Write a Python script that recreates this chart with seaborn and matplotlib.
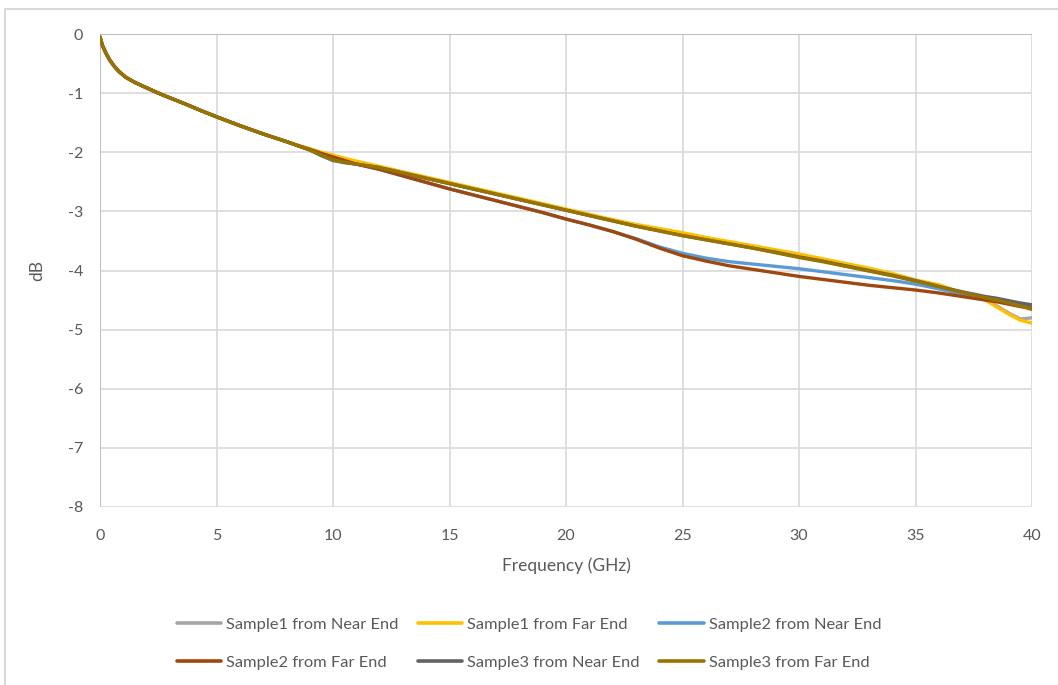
import numpy as np
import pandas as pd
import matplotlib
matplotlib.use("Agg")
import matplotlib.pyplot as plt
from matplotlib.patches import Rectangle
import seaborn as sns

# frequency points (GHz) shared by all six traces
freq = [0, 0.1, 0.25, 0.4, 0.6, 0.8, 1.1, 1.5, 2, 2.5, 3, 3.7, 4.3, 5, 6, 7, 8, 8.5, 9, 9.5,
        10, 10.5, 11, 12, 13, 14, 15, 16, 17, 18, 19, 20, 21, 22, 23, 24, 25, 26, 27, 28,
        29, 30, 31, 32, 33, 34, 35, 36, 37, 38, 38.5, 39, 39.5, 40]

# common low-frequency part (0 .. 8 GHz)
start = [-0.05, -0.19, -0.32, -0.43, -0.54, -0.63, -0.73, -0.82, -0.91, -1.00, -1.08, -1.19,
         -1.29, -1.40, -1.55, -1.69, -1.82]

s1_near = start + [-1.89, -1.96, -2.05, -2.14, -2.18, -2.20, -2.26, -2.35, -2.44, -2.53, -2.62,
                   -2.71, -2.80, -2.89, -2.98, -3.07, -3.16, -3.24, -3.32, -3.40, -3.47, -3.54,
                   -3.61, -3.68, -3.76, -3.83, -3.91, -3.99, -4.07, -4.17, -4.27, -4.38, -4.50,
                   -4.60, -4.72, -4.82, -4.80]
s1_far = start + [-1.88, -1.94, -2.00, -2.05, -2.10, -2.15, -2.24, -2.33, -2.42, -2.51, -2.60,
                  -2.69, -2.78, -2.87, -2.96, -3.05, -3.14, -3.22, -3.29, -3.36, -3.44, -3.51,
                  -3.58, -3.65, -3.72, -3.80, -3.88, -3.96, -4.05, -4.16, -4.24, -4.38, -4.50,
                  -4.62, -4.74, -4.84, -4.89]
s2_near = start + [-1.89, -1.96, -2.06, -2.14, -2.17, -2.20, -2.29, -2.40, -2.51, -2.62, -2.72,
                   -2.82, -2.92, -3.02, -3.13, -3.23, -3.34, -3.46, -3.60, -3.71, -3.79, -3.85,
                   -3.89, -3.93, -3.97, -4.02, -4.07, -4.12, -4.17, -4.23, -4.31, -4.40, -4.47,
                   -4.50, -4.53, -4.56, -4.59]
s2_far = start + [-1.89, -1.95, -2.02, -2.08, -2.14, -2.20, -2.29, -2.40, -2.51, -2.62, -2.72,
                  -2.82, -2.92, -3.02, -3.13, -3.23, -3.34, -3.47, -3.62, -3.75, -3.84, -3.92,
                  -3.98, -4.04, -4.10, -4.15, -4.20, -4.25, -4.29, -4.33, -4.38, -4.44, -4.50,
                  -4.53, -4.57, -4.61, -4.64]
s3_near = start + [-1.89, -1.96, -2.05, -2.13, -2.17, -2.20, -2.26, -2.35, -2.44, -2.53, -2.62,
                   -2.71, -2.80, -2.89, -2.98, -3.07, -3.16, -3.25, -3.33, -3.41, -3.48, -3.55,
                   -3.62, -3.69, -3.77, -3.84, -3.92, -4.00, -4.08, -4.17, -4.27, -4.36, -4.44,
                   -4.47, -4.51, -4.55, -4.58]
s3_far = start + [-1.89, -1.96, -2.05, -2.13, -2.17, -2.20, -2.26, -2.35, -2.44, -2.53, -2.62,
                  -2.71, -2.80, -2.89, -2.98, -3.07, -3.16, -3.25, -3.33, -3.41, -3.48, -3.55,
                  -3.62, -3.70, -3.78, -3.85, -3.93, -4.01, -4.09, -4.18, -4.27, -4.37, -4.46,
                  -4.50, -4.55, -4.60, -4.66]

names = ["Sample1 from Near End", "Sample1 from Far End", "Sample2 from Near End",
         "Sample2 from Far End", "Sample3 from Near End", "Sample3 from Far End"]
series = [s1_near, s1_far, s2_near, s2_far, s3_near, s3_far]
colors = ["#A5A5A5", "#FFC000", "#5B9BD5", "#9E480E", "#636363", "#997300"]

rows = []
for name, vals in zip(names, series):
    for f, v in zip(freq, vals):
        rows.append({"Frequency": f, "dB": v, "trace": name})
df = pd.DataFrame(rows)

sns.set_style("white")
plt.rcParams["font.family"] = ["Lato", "DejaVu Sans"]
plt.rcParams["axes.unicode_minus"] = False
txt = "#595959"

fig = plt.figure(figsize=(10.58, 6.85), dpi=100)
ax = fig.add_axes([100 / 1058, 1 - 507 / 685, 932 / 1058, 473 / 685])

sns.lineplot(data=df, x="Frequency", y="dB", hue="trace", hue_order=names,
             palette=dict(zip(names, colors)), estimator=None, sort=False,
             linewidth=2.4, ax=ax, zorder=3)
for ln in ax.lines:
    ln.set_solid_joinstyle("round")
    ln.set_solid_capstyle("round")

ax.set_xlim(0, 40)
ax.set_ylim(-8, 0)
ax.set_xticks(range(0, 41, 5))
ax.set_yticks(range(-8, 1, 1))
ax.grid(True, color="#d9d9d9", linewidth=1.2, zorder=0)
ax.set_axisbelow(True)
for s in ax.spines.values():
    s.set_visible(False)
ax.axhline(0, color="#bfbfbf", linewidth=1.5, zorder=1)
ax.axvline(0, color="#bfbfbf", linewidth=1.5, zorder=1)
ax.tick_params(axis="x", length=0, pad=16, labelsize=11.5, labelcolor=txt)
ax.tick_params(axis="y", length=0, pad=12, labelsize=11.5, labelcolor=txt)
ax.set_xlabel("Frequency (GHz)", fontsize=12.5, color=txt, labelpad=10)
ax.set_ylabel("dB", fontsize=12.5, color=txt, labelpad=16)

# legend in Excel row order
handles, labels = ax.get_legend_handles_labels()
ax.get_legend().remove()
order = [0, 3, 1, 4, 2, 5]
leg = fig.legend([handles[i] for i in order], [labels[i] for i in order],
                 loc="upper center", bbox_to_anchor=(0.5, 1 - 603 / 685), ncol=3,
                 frameon=False, fontsize=11.8, handlelength=2.7, handletextpad=0.3,
                 columnspacing=1.2, labelspacing=1.4)
for t in leg.get_texts():
    t.set_color(txt)
for h in leg.legend_handles:
    h.set_linewidth(2.6)

# chart area border
fig.patches.append(Rectangle((5 / 1058, -0.1), 1.2, 1.1 - 9 / 685,
                             transform=fig.transFigure, fill=False,
                             edgecolor="#d9d9d9", linewidth=1.5))

fig.savefig("out.png", dpi=100)
